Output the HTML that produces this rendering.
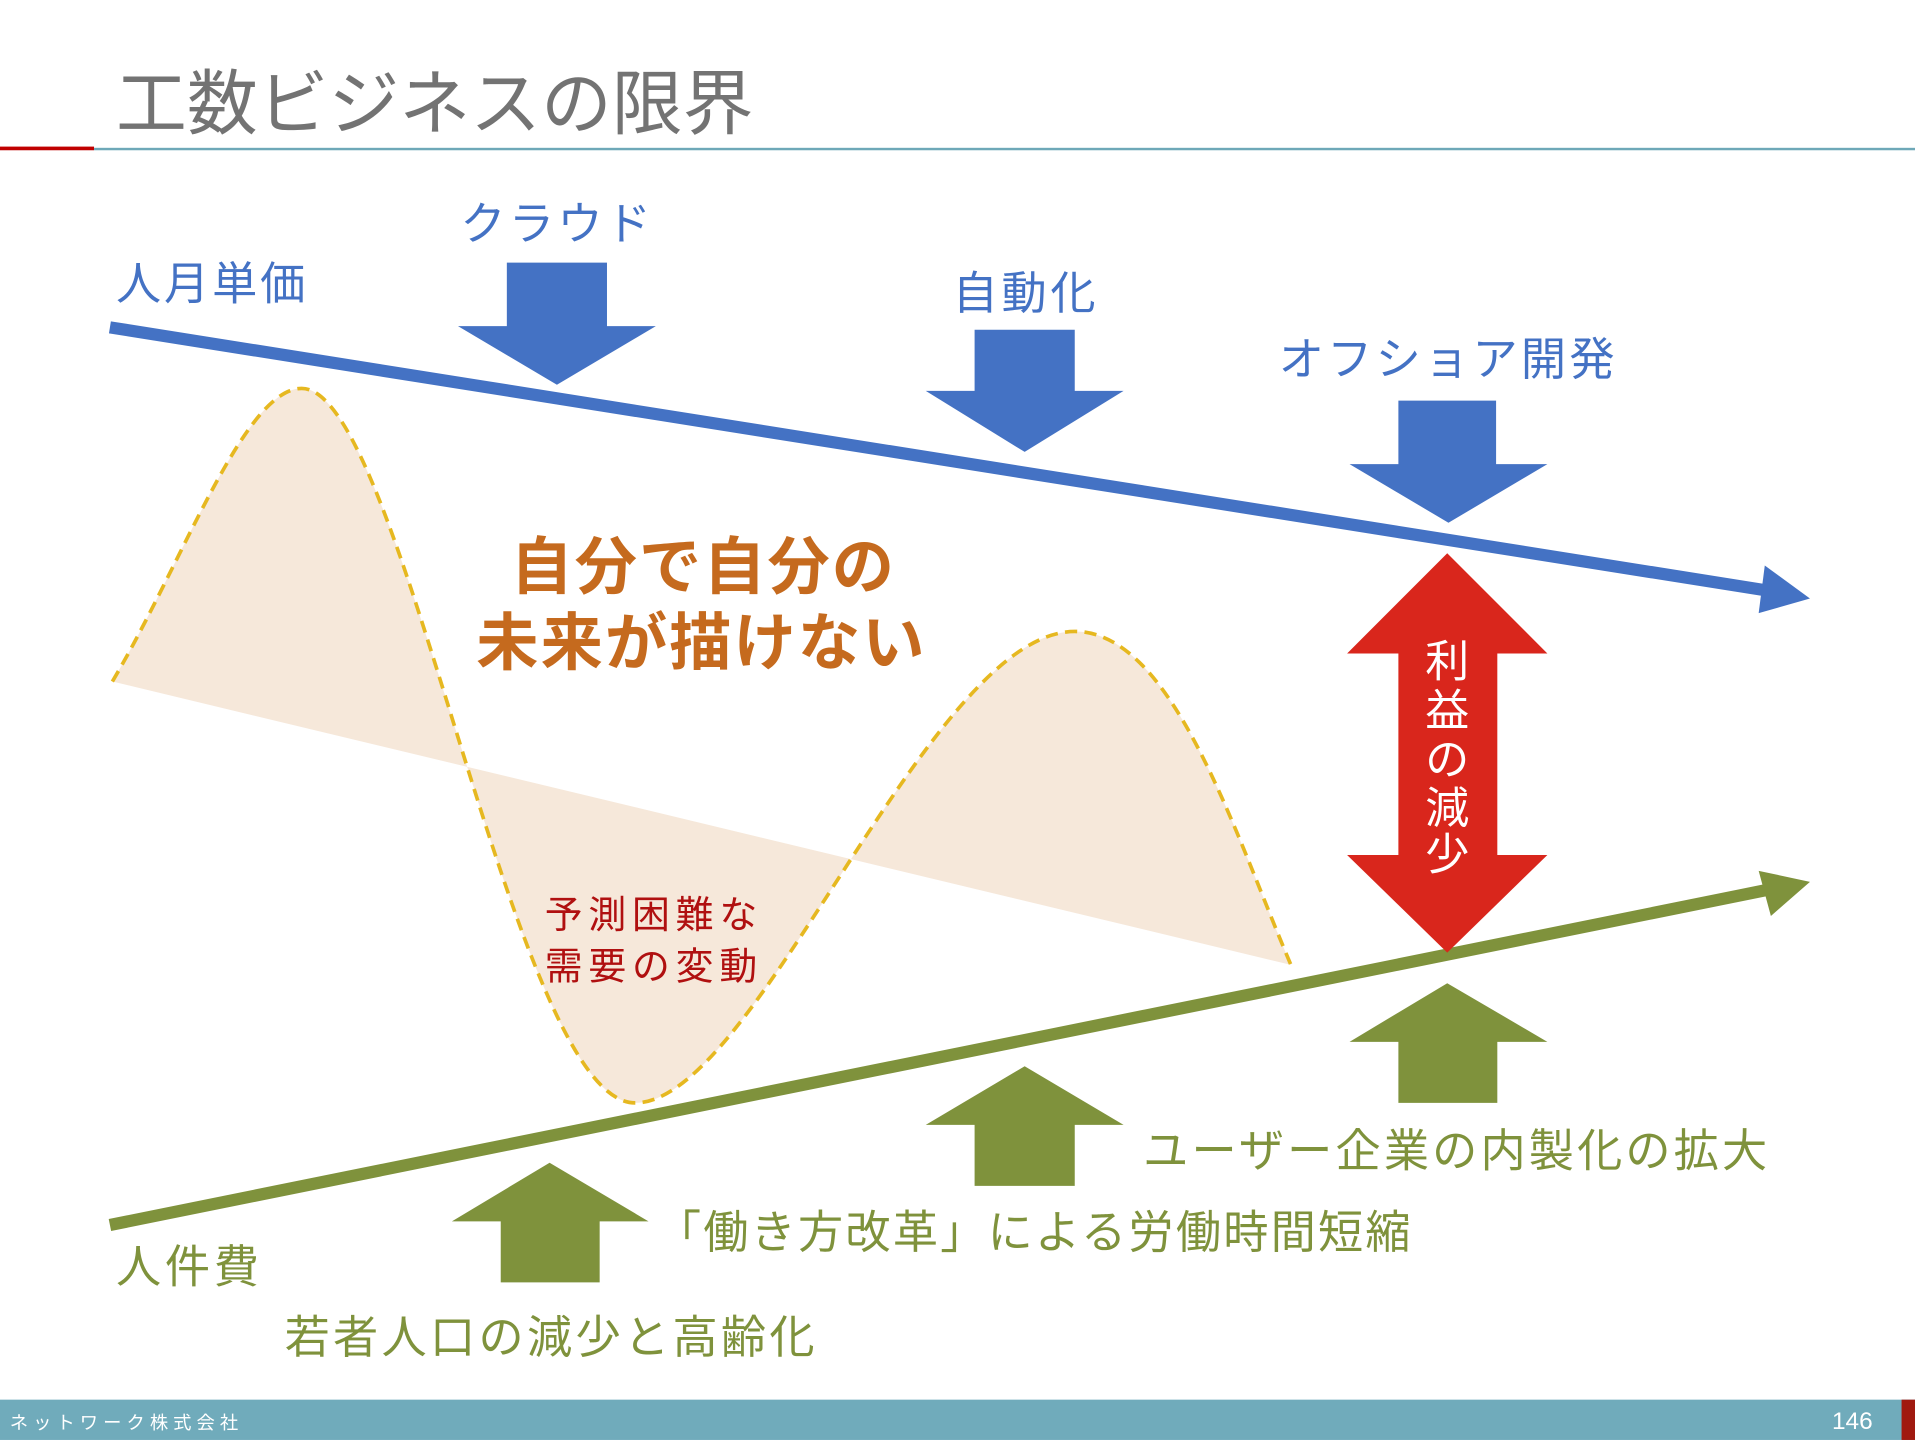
<!DOCTYPE html>
<html><head><meta charset="utf-8"><style>
html,body{margin:0;padding:0;background:#fff;}
svg{display:block;}
text{font-family:"Liberation Sans","Noto Sans CJK JP",sans-serif;}
</style></head><body>
<svg width="1915" height="1440" viewBox="0 0 1568 1179" xmlns="http://www.w3.org/2000/svg">
<rect width="1568" height="1179" fill="#fff"/>
<text x="95" y="105" font-size="58" fill="#737373">工数ビジネスの限界</text>
<rect x="0" y="120" width="77" height="3" fill="#c00000"/>
<rect x="77" y="121" width="1491" height="2" fill="#6ea8b8"/>

<path d="M92,558 C150,460 200,318 247,318 C330,318 420,903 520,903 C620,903 760,517 880,517 C960,517 1010,680 1057,790 Z" fill="#f6e8da"/>
<path d="M92,558 C150,460 200,318 247,318 C330,318 420,903 520,903 C620,903 760,517 880,517 C960,517 1010,680 1057,790" fill="none" stroke="#e6b820" stroke-width="3" stroke-dasharray="10,6"/>

<line x1="90" y1="268" x2="1450" y2="484" stroke="#4472c4" stroke-width="10"/>
<polygon points="1445,463 1482,490 1440,502" fill="#4472c4"/>
<line x1="90" y1="1003" x2="1450" y2="728" stroke="#7f923c" stroke-width="10"/>
<polygon points="1440,713 1482,722 1450,750" fill="#7f923c"/>

<polygon points="415,215 497,215 497,267 537,267 456,315 375,267 415,267" fill="#4472c4"/>
<polygon points="798,270 880,270 880,320 920,320 839,370 758,320 798,320" fill="#4472c4"/>
<polygon points="1145,328 1225,328 1225,380 1267,380 1186,428 1105,380 1145,380" fill="#4472c4"/>

<polygon points="450,952 531,1000 491,1000 491,1050 410,1050 410,1000 370,1000" fill="#7f923c"/>
<polygon points="839,873 920,921 880,921 880,971 798,971 798,921 758,921" fill="#7f923c"/>
<polygon points="1185,805 1267,853 1226,853 1226,903 1145,903 1145,853 1105,853" fill="#7f923c"/>

<polygon points="1185,453 1267,535 1226,535 1226,700 1267,700 1185,780 1103,700 1145,700 1145,535 1103,535" fill="#d9261c"/>
<g font-size="36" fill="#fff" text-anchor="middle">
<text x="1185" y="554">利</text>
<text x="1185" y="594">益</text>
<text x="1185" y="634">の</text>
<text x="1185" y="674">減</text>
<text x="1185" y="712">少</text>
</g>

<g font-size="37" fill="#4472c4">
<text x="95" y="245" textLength="155">人月単価</text>
<text x="377" y="196" textLength="156">クラウド</text>
<text x="780" y="253" textLength="117">自動化</text>
<text x="1047" y="307" textLength="275">オフショア開発</text>
</g>
<g font-size="51" font-weight="bold" fill="#c56a1e">
<text x="418" y="482" textLength="314">自分で自分の</text>
<text x="390" y="544" textLength="367">未来が描けない</text>
</g>
<g font-size="31" fill="#b01010">
<text x="446" y="760" textLength="174">予測困難な</text>
<text x="446" y="802" textLength="174">需要の変動</text>
</g>
<g font-size="37" fill="#7f923c">
<text x="95" y="1050" textLength="117">人件費</text>
<text x="233" y="1108" textLength="434">若者人口の減少と高齢化</text>
<text x="537" y="1022" textLength="618">「働き方改革」による労働時間短縮</text>
<text x="936" y="955" textLength="511">ユーザー企業の内製化の拡大</text>
</g>

<rect x="0" y="1146" width="1568" height="33" fill="#70abbb"/>
<rect x="1557" y="1146" width="11" height="33" fill="#a01a10"/>
<text x="8" y="1170" font-size="15" fill="#fff" textLength="187">ネットワーク株式会社</text>
<text x="1500" y="1170" font-size="20" fill="#fff">146</text>
</svg>
</body></html>
